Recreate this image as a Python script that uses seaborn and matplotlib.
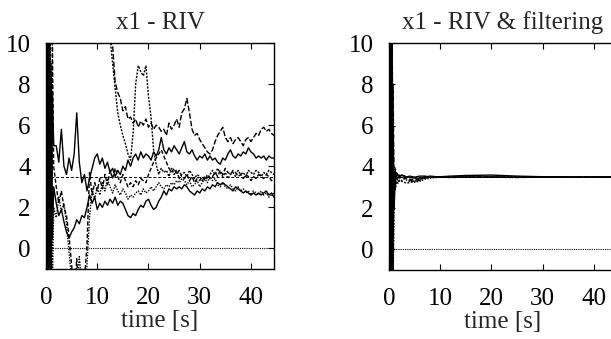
"""
Two panels of x1 estimates over time: RIV alone and RIV with filtering.
"""
import numpy as np
import pandas as pd
import matplotlib
matplotlib.use("Agg")
import matplotlib.pyplot as plt
import seaborn as sns

# ── data: left panel (RIV) ───────────────────────────────────────────────────
# time grid: dense start, then every 0.5 s
t_left = np.concatenate([[0.0, 0.25, 0.5, 0.75, 1.0, 1.25, 1.5],
                         np.arange(2.0, 45.0, 0.5)])

riv_a = [0.0, 25.0, 8.0, 22.0, 14.0, 18.0, 16.0,
         16.0, 15.5, 15.0, 14.8, 14.5, 14.2, 14.0, 13.8, 13.5, 13.3,
         13.0, 12.8, 12.5, 12.3, 12.0, 11.8, 11.6, 11.4, 11.2, 11.0,
         10.8, 10.0, 9.9, 8.1, 7.6, 7.3, 6.7, 6.9, 6.3, 6.4,
         6.1, 6.3, 5.9, 6.2, 6.0, 6.3, 5.9, 6.1, 5.8, 6.0,
         5.9, 5.7, 5.8, 5.5, 6.1, 5.8, 6.0, 6.3, 5.9, 6.6,
         6.8, 7.3, 6.6, 5.8, 5.5, 5.6, 5.3, 5.1, 4.9, 4.7,
         4.6, 4.8, 5.2, 5.5, 5.7, 5.9, 5.4, 5.2, 5.4, 5.1,
         5.3, 5.4, 5.2, 5.0, 5.3, 5.4, 5.2, 5.4, 5.6, 5.5,
         5.8, 5.9, 5.7, 5.8, 5.6, 5.5]

riv_b = [0.0, -8.0, 20.0, 5.0, 24.0, 17.0, 19.0,
         18.0, 17.5, 17.0, 16.5, 16.0, 15.5, 15.0, 14.6, 14.2, 13.8,
         13.4, 13.0, 12.7, 12.4, 12.1, 11.8, 11.5, 11.3, 11.1, 10.9,
         10.7, 10.3, 9.0, 7.8, 6.6, 6.0, 5.5, 5.1, 4.6, 4.3,
         5.6, 8.0, 8.9, 8.6, 8.4, 8.9, 7.4, 6.4, 4.8, 4.1,
         3.6, 3.9, 3.7, 3.8, 3.5, 3.9, 3.6, 3.8, 3.4, 3.6,
         3.7, 3.5, 3.8, 3.6, 3.4, 3.6, 3.5, 3.3, 3.5, 3.4,
         3.6, 3.8, 3.6, 3.9, 3.7, 3.5, 3.7, 3.4, 3.6, 3.7,
         3.5, 3.8, 3.6, 3.7, 3.5, 3.8, 3.7, 3.6, 3.8, 3.7,
         3.5, 3.7, 3.6, 3.8, 3.7, 3.6]

riv_c = [0.0, -6.0, 12.0, -3.0, 9.0, 0.5, 3.0,
         2.2, 1.6, 1.9, 1.3, 0.8, 0.5, 0.8, 1.0, 1.4, 1.2,
         1.6, 1.5, 2.0, 2.6, 2.2, 2.5, 1.9, 2.2, 2.0, 2.3,
         2.1, 2.4, 2.2, 2.5, 2.1, 2.3, 2.2, 1.9, 1.6, 1.5,
         1.7, 1.6, 1.9, 2.1, 2.0, 2.3, 2.4, 2.1, 1.9, 2.0,
         2.3, 2.5, 2.8, 2.6, 2.9, 2.8, 3.0, 2.9, 3.0, 2.9,
         3.1, 3.0, 2.8, 2.7, 2.6, 2.8, 2.7, 2.9, 2.8, 3.0,
         2.9, 3.1, 3.0, 3.2, 3.1, 3.2, 3.1, 3.0, 2.9, 2.8,
         3.0, 2.9, 2.8, 2.7, 2.8, 2.7, 2.6, 2.7, 2.6, 2.7,
         2.6, 2.7, 2.8, 2.6, 2.7, 2.5]

riv_d = [0.0, 16.0, -7.0, 6.0, -4.0, 10.0, 4.0,
         3.0, 2.2, 2.8, 2.0, 1.6, 0.6, -0.8, -2.5, -0.5, -3.0,
         -2.0, -1.5, 0.2, 3.7, 2.6, 3.2, 2.8, 3.4, 2.9, 3.6,
         3.1, 3.8, 3.4, 3.9, 3.5, 3.2, 3.6, 3.3, 3.0, 3.2,
         3.0, 3.3, 3.1, 3.4, 3.3, 3.2, 3.6, 3.9, 4.2, 4.4,
         4.6, 4.8, 4.5, 4.2, 3.9, 3.7, 3.9, 3.6, 3.8, 3.5,
         3.4, 3.6, 3.3, 3.5, 3.2, 3.4, 3.3, 3.5, 3.3, 3.6,
         3.4, 3.5, 3.7, 3.5, 3.8, 3.6, 3.9, 3.7, 3.6, 3.8,
         3.7, 3.5, 3.6, 3.4, 3.6, 3.5, 3.3, 3.5, 3.4, 3.6,
         3.5, 3.4, 3.6, 3.5, 3.3, 3.4]

riv_e = [0.0, -9.0, 14.0, -5.0, 7.0, -2.0, 2.0,
         1.5, 2.5, 1.8, 2.2, 1.2, -0.2, -1.5, -4.0, -2.0, -0.4,
         -1.8, -3.0, -0.8, 1.5, 2.9, 2.4, 3.0, 2.6, 3.2, 2.8,
         3.4, 3.0, 2.7, 3.1, 2.8, 2.6, 2.9, 2.7, 2.4, 2.6,
         2.5, 2.7, 2.8, 2.6, 2.9, 2.7, 2.8, 3.0, 2.8, 3.0,
         3.2, 3.0, 2.9, 3.1, 3.0, 3.2, 3.1, 3.3, 3.2, 3.4,
         3.3, 3.1, 3.3, 3.0, 3.1, 3.3, 3.0, 3.2, 3.4, 3.2,
         3.5, 3.3, 3.4, 3.1, 3.0, 3.2, 3.0, 2.9, 3.1, 2.9,
         2.8, 3.0, 2.8, 2.9, 2.7, 2.8, 2.6, 2.8, 2.7, 2.6,
         2.8, 2.6, 2.7, 2.5, 2.6, 2.7]

riv_f = [0.0, 13.0, -3.0, 11.0, -1.5, 7.5, 5.0,
         5.0, 4.2, 5.8, 4.0, 3.6, 4.4, 3.8, 4.6, 6.6, 4.2,
         3.2, 3.6, 2.8, 3.4, 3.9, 4.4, 4.6, 4.1, 4.4, 3.9,
         4.2, 3.7, 3.9, 3.5, 3.8, 3.6, 4.0, 3.8, 4.3, 4.0,
         4.4, 4.6, 4.3, 4.7, 4.4, 4.6, 4.5, 4.3, 4.7, 4.5,
         4.8, 5.4, 4.8, 4.6, 4.9, 4.7, 5.0, 4.8, 4.6, 4.9,
         5.2, 4.7, 4.6, 4.8, 4.5, 4.3, 4.5, 4.4, 4.6, 4.3,
         4.5, 4.3, 4.4, 4.2, 4.1, 4.4, 4.3, 4.6, 4.8, 4.5,
         4.4, 4.6, 4.5, 4.7, 4.6, 4.9, 4.7, 4.6, 4.4, 4.5,
         4.4, 4.5, 4.3, 4.5, 4.4, 4.4]

# ── data: right panel (RIV & filtering) ──────────────────────────────────────
t_right = [0.0, 0.2, 0.4, 0.6, 0.8, 1.0, 1.25, 1.5, 1.75, 2.0, 2.5, 3.0, 3.5,
           4.0, 5.0, 6.0, 7.0, 8.0, 10.0, 12.0, 15.0, 20.0, 25.0, 30.0, 35.0,
           40.0, 44.5]

filt_a = [0, 14, -3, 10, 1, 3.8, 3.2, 3.7, 3.6, 3.5, 3.6, 3.55, 3.5, 3.5,
          3.45, 3.45, 3.5, 3.55, 3.5, 3.5, 3.5, 3.5, 3.5, 3.5, 3.5, 3.5, 3.5]
filt_b = [0, -6, 12, 2, 8, 2.6, 3.9, 3.4, 3.5, 3.6, 3.5, 3.45, 3.4, 3.35,
          3.3, 3.35, 3.45, 3.5, 3.5, 3.5, 3.5, 3.5, 3.5, 3.5, 3.5, 3.5, 3.5]
filt_c = [0, 11, 0, 13, -2, 3.0, 2.9, 3.3, 3.2, 3.35, 3.3, 3.25, 3.2, 3.25,
          3.3, 3.4, 3.45, 3.5, 3.5, 3.5, 3.5, 3.5, 3.5, 3.5, 3.5, 3.5, 3.5]
filt_d = [0, -3, 15, -1, 6, 2.0, 3.6, 3.7, 3.6, 3.55, 3.6, 3.55, 3.5, 3.55,
          3.5, 3.55, 3.55, 3.5, 3.52, 3.55, 3.58, 3.6, 3.55, 3.52, 3.5, 3.5, 3.5]
filt_e = [0, 9, -4, 11, 3, 3.3, 3.5, 3.4, 3.5, 3.45, 3.5, 3.5, 3.45, 3.4,
          3.38, 3.42, 3.5, 3.52, 3.5, 3.48, 3.5, 3.5, 3.48, 3.5, 3.5, 3.5, 3.5]
filt_f = [0, 17, 2, 9, -1, 2.8, 3.1, 3.3, 3.4, 3.3, 3.35, 3.4, 3.35, 3.3,
          3.25, 3.3, 3.4, 3.45, 3.5, 3.5, 3.5, 3.5, 3.5, 3.5, 3.5, 3.5, 3.5]

true_value = 3.5
zero_level = 0.0
t_span = [0.0, 44.5]

styles = ["-", (0, (4, 1.5)), (0, (1.5, 1)), "-", (0, (3, 1.5)), (0, (1, 1))]

# ── style ────────────────────────────────────────────────────────────────────
sns.set_theme(style="ticks")
plt.rcParams["font.family"] = ["Liberation Serif", "DejaVu Serif"]
plt.rcParams["axes.linewidth"] = 1.0


def draw_panel(ax, t, series, title):
    for y, ls in zip(series, styles):
        df = pd.DataFrame({"t": t, "x1": y})
        sns.lineplot(data=df, x="t", y="x1", ax=ax, color="black",
                     linewidth=1.0, linestyle=ls, sort=False, legend=False)
    # reference levels
    sns.lineplot(x=t_span, y=[true_value, true_value], ax=ax, color="black",
                 linewidth=0.7, linestyle=(0, (3, 2)))
    sns.lineplot(x=t_span, y=[zero_level, zero_level], ax=ax, color="black",
                 linewidth=0.8, linestyle=(0, (1, 1)))

    ax.set_xlim(0, 44.5)
    ax.set_ylim(-1, 10)
    ax.set_xticks([0, 10, 20, 30, 40])
    ax.set_yticks([0, 2, 4, 6, 8, 10])
    ax.tick_params(direction="in", top=True, right=True, length=4,
                   width=0.8, labelsize=18, colors="black")
    ax.tick_params(axis="x", pad=13)
    ax.tick_params(axis="y", pad=11)
    ax.set_title(title, fontsize=18, pad=10)
    ax.set_xlabel("time [s]", fontsize=18, labelpad=1)
    ax.set_ylabel("")
    for sp in ax.spines.values():
        sp.set_color("black")


fig = plt.figure(figsize=(6.11, 3.39), dpi=100)
ax_l = fig.add_axes([46 / 611, 70 / 339, 228 / 611, 226 / 339])
ax_r = fig.add_axes([389 / 611, 69 / 339, 228 / 611, 227 / 339])

draw_panel(ax_l, t_left, [riv_f, riv_a, riv_b, riv_c, riv_d, riv_e],
           "x1 - RIV")
draw_panel(ax_r, t_right, [filt_a, filt_b, filt_c, filt_d, filt_e, filt_f],
           "x1 - RIV & filtering")

fig.savefig("out.png", dpi=100)
plt.close(fig)
